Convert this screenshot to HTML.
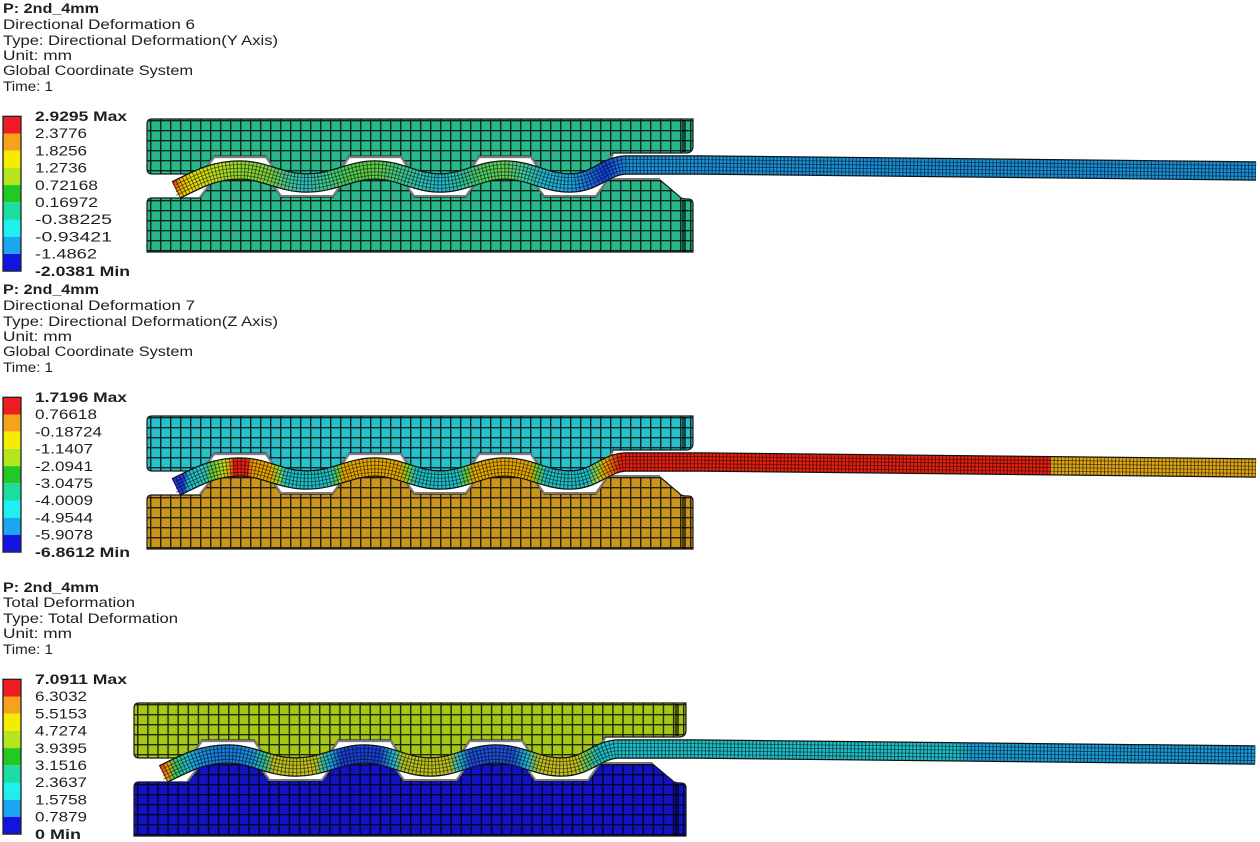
<!DOCTYPE html>
<html>
<head>
<meta charset="utf-8">
<style>
html,body{margin:0;padding:0;background:#fff;}
svg{display:block;}
text{font-family:"Liberation Sans","DejaVu Sans",sans-serif;font-size:13.5px;fill:#1e1e1e;}
.b{font-weight:bold;}
</style>
</head>
<body>
<svg width="1260" height="842" viewBox="0 0 1260 842" xmlns="http://www.w3.org/2000/svg" xmlns:xlink="http://www.w3.org/1999/xlink">
<defs>
  <pattern id="m" width="10" height="10" patternUnits="userSpaceOnUse">
    <path d="M0 0.7H10M0.7 0V10" stroke="#000" stroke-opacity="0.8" stroke-width="1.4" fill="none"/>
  </pattern>
  <path id="up" d="M152,119 H693 V146 Q693,153 686,153 H613 L600,174 H543 L531,156 H479 L467,174 H413 L401,156 H349 L337,174 H278 L266,156 H214 L202,174 H152 Q147,174 147,169 V124 Q147,119 152,119 Z"/>
  <path id="lo" d="M147,203 Q147,198 152,198 H200 L214,180 H269 L281,197 H333 L345,180 H402 L414,197 H466 L478,180 H532 L544,197 H596 L608,180 H660 L679,196 Q681,199 686,199 H688 Q693,199 693,204 V252 H147 Z"/>
  <path id="upc" d="M613,153 L600,174 H543 L531,156 H479 L467,174 H413 L401,156 H349 L337,174 H278 L266,156 H214 L202,174"/>
  <path id="loc" d="M200,198 L214,180 H269 L281,197 H333 L345,180 H402 L414,197 H466 L478,180 H532 L544,197 H596 L608,180 H660"/>
  <path id="st" d="M176,190 C200,178 215,170 240,170 C265,170 280,183 307,183 C334,183 350,170 375,170 C400,170 415,183 440,183 C465,183 480,170 505,170 C530,170 545,183 570,183 C595,183 605,166 625,165 L700,165 L1256,171"/>

  <linearGradient id="g1" gradientUnits="userSpaceOnUse" x1="0" y1="0" x2="1260" y2="0">
    <stop offset="0.1381" stop-color="#e03a10"/>
    <stop offset="0.1429" stop-color="#f0b000"/>
    <stop offset="0.1508" stop-color="#e8e000"/>
    <stop offset="0.1706" stop-color="#c0e020"/>
    <stop offset="0.1905" stop-color="#90d830"/>
    <stop offset="0.2143" stop-color="#80d040"/>
    <stop offset="0.2302" stop-color="#40c8a0"/>
    <stop offset="0.2437" stop-color="#30bcc0"/>
    <stop offset="0.2579" stop-color="#40c890"/>
    <stop offset="0.2778" stop-color="#50cc50"/>
    <stop offset="0.2976" stop-color="#60d040"/>
    <stop offset="0.3175" stop-color="#40c890"/>
    <stop offset="0.3349" stop-color="#30c0b0"/>
    <stop offset="0.3492" stop-color="#20b8d0"/>
    <stop offset="0.3659" stop-color="#30c0a0"/>
    <stop offset="0.3810" stop-color="#50cc60"/>
    <stop offset="0.4008" stop-color="#60d050"/>
    <stop offset="0.4167" stop-color="#40c8a0"/>
    <stop offset="0.4325" stop-color="#20b8d0"/>
    <stop offset="0.4524" stop-color="#20a8e0"/>
    <stop offset="0.4683" stop-color="#1a70e0"/>
    <stop offset="0.4802" stop-color="#1440e0"/>
    <stop offset="0.4905" stop-color="#1a70e0"/>
    <stop offset="0.5000" stop-color="#1a90d8"/>
    <stop offset="1" stop-color="#1a90d8"/>
  </linearGradient>

  <linearGradient id="g2" gradientUnits="userSpaceOnUse" x1="0" y1="0" x2="1260" y2="0">
    <stop offset="0.1381" stop-color="#2030e0"/>
    <stop offset="0.1460" stop-color="#2040e0"/>
    <stop offset="0.1492" stop-color="#20c0d0"/>
    <stop offset="0.1619" stop-color="#30c8c0"/>
    <stop offset="0.1683" stop-color="#60d040"/>
    <stop offset="0.1778" stop-color="#c8e020"/>
    <stop offset="0.1825" stop-color="#f0a000"/>
    <stop offset="0.1857" stop-color="#e82010"/>
    <stop offset="0.1960" stop-color="#e82010"/>
    <stop offset="0.2000" stop-color="#f0a000"/>
    <stop offset="0.2143" stop-color="#e8a800"/>
    <stop offset="0.2206" stop-color="#a0d830"/>
    <stop offset="0.2270" stop-color="#20c0c8"/>
    <stop offset="0.2619" stop-color="#20c0c8"/>
    <stop offset="0.2675" stop-color="#60d040"/>
    <stop offset="0.2730" stop-color="#e8a800"/>
    <stop offset="0.3175" stop-color="#e8a800"/>
    <stop offset="0.3238" stop-color="#80d030"/>
    <stop offset="0.3302" stop-color="#20c0c8"/>
    <stop offset="0.3635" stop-color="#20c0c8"/>
    <stop offset="0.3698" stop-color="#60d040"/>
    <stop offset="0.3762" stop-color="#e8a800"/>
    <stop offset="0.4206" stop-color="#e8a800"/>
    <stop offset="0.4270" stop-color="#60d040"/>
    <stop offset="0.4333" stop-color="#20c0c8"/>
    <stop offset="0.4667" stop-color="#20c0c8"/>
    <stop offset="0.4738" stop-color="#a0d830"/>
    <stop offset="0.4810" stop-color="#f0a000"/>
    <stop offset="0.4921" stop-color="#e82010"/>
    <stop offset="0.8333" stop-color="#e82010"/>
    <stop offset="0.8341" stop-color="#e0a818"/>
    <stop offset="1" stop-color="#e0a818"/>
  </linearGradient>

  <linearGradient id="g3" gradientUnits="userSpaceOnUse" x1="0" y1="0" x2="1260" y2="0">
    <stop offset="0.1365" stop-color="#e82010"/>
    <stop offset="0.1429" stop-color="#f0a000"/>
    <stop offset="0.1492" stop-color="#40c860"/>
    <stop offset="0.1587" stop-color="#20c0d0"/>
    <stop offset="0.1683" stop-color="#1a90e0"/>
    <stop offset="0.1905" stop-color="#1a7ae0"/>
    <stop offset="0.2079" stop-color="#1a90e0"/>
    <stop offset="0.2190" stop-color="#30c0a0"/>
    <stop offset="0.2270" stop-color="#c0c020"/>
    <stop offset="0.2587" stop-color="#c8c020"/>
    <stop offset="0.2651" stop-color="#40c0a0"/>
    <stop offset="0.2714" stop-color="#20a8e0"/>
    <stop offset="0.2794" stop-color="#1a40d8"/>
    <stop offset="0.3095" stop-color="#1a40d8"/>
    <stop offset="0.3206" stop-color="#20c0d0"/>
    <stop offset="0.3286" stop-color="#b8c420"/>
    <stop offset="0.3635" stop-color="#c0c020"/>
    <stop offset="0.3714" stop-color="#30c0c0"/>
    <stop offset="0.3810" stop-color="#1a50d8"/>
    <stop offset="0.4143" stop-color="#1a50d8"/>
    <stop offset="0.4254" stop-color="#20c0d0"/>
    <stop offset="0.4349" stop-color="#c0c020"/>
    <stop offset="0.4635" stop-color="#c8c020"/>
    <stop offset="0.4730" stop-color="#60c860"/>
    <stop offset="0.4810" stop-color="#20c0c8"/>
    <stop offset="0.7619" stop-color="#20c0c8"/>
    <stop offset="0.7738" stop-color="#1aa0d8"/>
    <stop offset="1" stop-color="#1a98d8"/>
  </linearGradient>

  <g id="bar">
    <rect x="3" y="116.3" width="18" height="17.2" fill="#ef1c24"/>
    <rect x="3" y="133.5" width="18" height="17.2" fill="#f7a21b"/>
    <rect x="3" y="150.7" width="18" height="17.2" fill="#f5ec00"/>
    <rect x="3" y="167.9" width="18" height="17.2" fill="#b5e61d"/>
    <rect x="3" y="185.1" width="18" height="17.2" fill="#22c922"/>
    <rect x="3" y="202.3" width="18" height="17.2" fill="#1cdca0"/>
    <rect x="3" y="219.5" width="18" height="17.2" fill="#1ef0f0"/>
    <rect x="3" y="236.7" width="18" height="17.2" fill="#1aa6f0"/>
    <rect x="3" y="253.9" width="18" height="17.2" fill="#1414e0"/>
    <rect x="3" y="116.3" width="18" height="154.8" fill="none" stroke="#222" stroke-width="1.3"/>
  </g>

  <g id="stripmesh" fill="none">
    <use href="#st" xlink:href="#st" stroke="#000" stroke-opacity="0.55" stroke-width="17" stroke-dasharray="1 2.6"/>
    <use href="#st" xlink:href="#st" stroke="#000" stroke-opacity="0.5" stroke-width="0.9" transform="translate(0,-5.4)"/>
    <use href="#st" xlink:href="#st" stroke="#000" stroke-opacity="0.5" stroke-width="0.9" transform="translate(0,-1.8)"/>
    <use href="#st" xlink:href="#st" stroke="#000" stroke-opacity="0.5" stroke-width="0.9" transform="translate(0,1.8)"/>
    <use href="#st" xlink:href="#st" stroke="#000" stroke-opacity="0.5" stroke-width="0.9" transform="translate(0,5.4)"/>
  </g>
  <g id="dieext">
    <use href="#up" xlink:href="#up" fill="url(#m)"/>
    <use href="#up" xlink:href="#up" fill="none" stroke="#1a1a1a" stroke-width="1.2"/>
    <use href="#lo" xlink:href="#lo" fill="url(#m)"/>
    <use href="#lo" xlink:href="#lo" fill="none" stroke="#1a1a1a" stroke-width="1.2"/>
    <use href="#upc" xlink:href="#upc" fill="none" stroke="#7a7a7a" stroke-width="2.2" transform="translate(0,1)"/>
    <use href="#loc" xlink:href="#loc" fill="none" stroke="#7a7a7a" stroke-width="2" transform="translate(0,-1)"/>
    <rect x="682" y="120" width="4" height="32" fill="#000" fill-opacity="0.6"/>
    <rect x="682" y="200" width="4" height="52" fill="#000" fill-opacity="0.6"/>
  </g>
</defs>

<rect width="1260" height="842" fill="#fff"/>

<!-- ============ PANEL 1 TEXT ============ -->
<text class="b" x="3" y="13" textLength="96" lengthAdjust="spacingAndGlyphs">P: 2nd_4mm</text>
<text x="3" y="29" textLength="192" lengthAdjust="spacingAndGlyphs">Directional Deformation 6</text>
<text x="3" y="45" textLength="275" lengthAdjust="spacingAndGlyphs">Type: Directional Deformation(Y Axis)</text>
<text x="3" y="60" textLength="69" lengthAdjust="spacingAndGlyphs">Unit: mm</text>
<text x="3" y="75" textLength="190" lengthAdjust="spacingAndGlyphs">Global Coordinate System</text>
<text x="3" y="91" textLength="50" lengthAdjust="spacingAndGlyphs">Time: 1</text>

<use href="#bar" xlink:href="#bar"/>
<text class="b" x="35" y="121" textLength="92" lengthAdjust="spacingAndGlyphs">2.9295 Max</text>
<text x="35" y="138.2" textLength="52" lengthAdjust="spacingAndGlyphs">2.3776</text>
<text x="35" y="155.4" textLength="52" lengthAdjust="spacingAndGlyphs">1.8256</text>
<text x="35" y="172.6" textLength="52" lengthAdjust="spacingAndGlyphs">1.2736</text>
<text x="35" y="189.8" textLength="63" lengthAdjust="spacingAndGlyphs">0.72168</text>
<text x="35" y="207" textLength="63" lengthAdjust="spacingAndGlyphs">0.16972</text>
<text x="35" y="224.2" textLength="77" lengthAdjust="spacingAndGlyphs">-0.38225</text>
<text x="35" y="241.4" textLength="77" lengthAdjust="spacingAndGlyphs">-0.93421</text>
<text x="35" y="258.6" textLength="62" lengthAdjust="spacingAndGlyphs">-1.4862</text>
<text class="b" x="35" y="275.8" textLength="95" lengthAdjust="spacingAndGlyphs">-2.0381 Min</text>

<!-- ============ PANEL 1 MODEL ============ -->
<g>
  <use href="#up" xlink:href="#up" fill="#28b88c"/>
  <use href="#lo" xlink:href="#lo" fill="#28b88c"/>
  <use href="#dieext" xlink:href="#dieext"/>
  <use href="#st" xlink:href="#st" fill="none" stroke="#111" stroke-width="19.5"/>
  <use href="#st" xlink:href="#st" fill="none" stroke="url(#g1)" stroke-width="17"/>
  <use href="#stripmesh" xlink:href="#stripmesh"/>
</g>

<!-- ============ PANEL 2 TEXT ============ -->
<text class="b" x="3" y="294" textLength="96" lengthAdjust="spacingAndGlyphs">P: 2nd_4mm</text>
<text x="3" y="310" textLength="192" lengthAdjust="spacingAndGlyphs">Directional Deformation 7</text>
<text x="3" y="326" textLength="275" lengthAdjust="spacingAndGlyphs">Type: Directional Deformation(Z Axis)</text>
<text x="3" y="341" textLength="69" lengthAdjust="spacingAndGlyphs">Unit: mm</text>
<text x="3" y="356" textLength="190" lengthAdjust="spacingAndGlyphs">Global Coordinate System</text>
<text x="3" y="372" textLength="50" lengthAdjust="spacingAndGlyphs">Time: 1</text>

<use href="#bar" xlink:href="#bar" transform="translate(0,281)"/>
<text class="b" x="35" y="402" textLength="92" lengthAdjust="spacingAndGlyphs">1.7196 Max</text>
<text x="35" y="419.2" textLength="62" lengthAdjust="spacingAndGlyphs">0.76618</text>
<text x="35" y="436.4" textLength="67" lengthAdjust="spacingAndGlyphs">-0.18724</text>
<text x="35" y="453.6" textLength="58" lengthAdjust="spacingAndGlyphs">-1.1407</text>
<text x="35" y="470.8" textLength="58" lengthAdjust="spacingAndGlyphs">-2.0941</text>
<text x="35" y="488" textLength="58" lengthAdjust="spacingAndGlyphs">-3.0475</text>
<text x="35" y="505.2" textLength="58" lengthAdjust="spacingAndGlyphs">-4.0009</text>
<text x="35" y="522.4" textLength="58" lengthAdjust="spacingAndGlyphs">-4.9544</text>
<text x="35" y="539.6" textLength="58" lengthAdjust="spacingAndGlyphs">-5.9078</text>
<text class="b" x="35" y="556.8" textLength="95" lengthAdjust="spacingAndGlyphs">-6.8612 Min</text>

<!-- ============ PANEL 2 MODEL ============ -->
<g transform="translate(0,297)">
  <use href="#up" xlink:href="#up" fill="#2ac0ca"/>
  <use href="#lo" xlink:href="#lo" fill="#c8961e"/>
  <use href="#dieext" xlink:href="#dieext"/>
  <use href="#st" xlink:href="#st" fill="none" stroke="#111" stroke-width="19.5"/>
  <use href="#st" xlink:href="#st" fill="none" stroke="url(#g2)" stroke-width="17"/>
  <use href="#stripmesh" xlink:href="#stripmesh"/>
</g>

<!-- ============ PANEL 3 TEXT ============ -->
<text class="b" x="3" y="592" textLength="96" lengthAdjust="spacingAndGlyphs">P: 2nd_4mm</text>
<text x="3" y="607" textLength="132" lengthAdjust="spacingAndGlyphs">Total Deformation</text>
<text x="3" y="623" textLength="175" lengthAdjust="spacingAndGlyphs">Type: Total Deformation</text>
<text x="3" y="638" textLength="69" lengthAdjust="spacingAndGlyphs">Unit: mm</text>
<text x="3" y="654" textLength="50" lengthAdjust="spacingAndGlyphs">Time: 1</text>

<use href="#bar" xlink:href="#bar" transform="translate(0,563)"/>
<text class="b" x="35" y="684" textLength="92" lengthAdjust="spacingAndGlyphs">7.0911 Max</text>
<text x="35" y="701.2" textLength="52" lengthAdjust="spacingAndGlyphs">6.3032</text>
<text x="35" y="718.4" textLength="52" lengthAdjust="spacingAndGlyphs">5.5153</text>
<text x="35" y="735.6" textLength="52" lengthAdjust="spacingAndGlyphs">4.7274</text>
<text x="35" y="752.8" textLength="52" lengthAdjust="spacingAndGlyphs">3.9395</text>
<text x="35" y="770" textLength="52" lengthAdjust="spacingAndGlyphs">3.1516</text>
<text x="35" y="787.2" textLength="52" lengthAdjust="spacingAndGlyphs">2.3637</text>
<text x="35" y="804.4" textLength="52" lengthAdjust="spacingAndGlyphs">1.5758</text>
<text x="35" y="821.6" textLength="52" lengthAdjust="spacingAndGlyphs">0.7879</text>
<text class="b" x="35" y="838.8" textLength="46" lengthAdjust="spacingAndGlyphs">0 Min</text>

<!-- ============ PANEL 3 MODEL ============ -->
<g transform="translate(134,584) scale(1.011,1) translate(-147,0)">
  <use href="#up" xlink:href="#up" fill="#a6c61a"/>
  <use href="#lo" xlink:href="#lo" fill="#1212c0"/>
  <use href="#dieext" xlink:href="#dieext"/>
  <use href="#st" xlink:href="#st" fill="none" stroke="#111" stroke-width="19.5"/>
  <use href="#st" xlink:href="#st" fill="none" stroke="url(#g3)" stroke-width="17"/>
  <use href="#stripmesh" xlink:href="#stripmesh"/>
</g>
</svg>
</body>
</html>
